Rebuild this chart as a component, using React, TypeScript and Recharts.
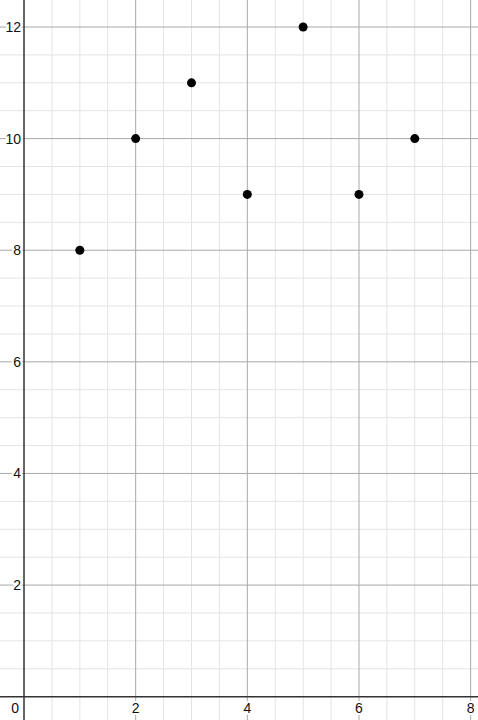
import React from 'react';
import { ScatterChart, Scatter, XAxis, YAxis, ReferenceLine } from 'recharts';

const pointX = [1, 2, 3, 4, 5, 6, 7];
const pointY = [8, 10, 11, 9, 12, 9, 10];

const xMajor = [2, 4, 6, 8];
const yMajor = [2, 4, 6, 8, 10, 12];
const xMinor = [0.5, 1, 1.5, 2.5, 3, 3.5, 4.5, 5, 5.5, 6.5, 7, 7.5];
const yMinor = [0.5, 1, 1.5, 2.5, 3, 3.5, 4.5, 5, 5.5, 6.5, 7, 7.5, 8.5, 9, 9.5, 10.5, 11, 11.5];
const xLabels = ['2', '4', '6', '8'];
const yLabels = ['2', '4', '6', '8', '10', '12'];

const points = pointX.map((x, i) => ({ x, y: pointY[i] }));
const xLabelData = xMajor.map((x, i) => ({ x, y: 0, text: xLabels[i] }));
const yLabelData = yMajor.map((y, i) => ({ x: 0, y, text: yLabels[i] }));
const originLabel = [{ x: 0, y: 0, text: '0' }];

const font = '"Liberation Sans", Arial, sans-serif';
const minorColor = '#e4e4e4';
const majorColor = '#a8a8a8';
const axisColor = '#333';

function LabelText({ x, y, text, anchor }: { x: number; y: number; text: string; anchor: 'start' | 'middle' | 'end' }) {
  return (
    <text
      x={x}
      y={y}
      textAnchor={anchor}
      fontFamily={font}
      fontSize={14}
      fill="#111"
      stroke="#fff"
      strokeWidth={4}
      strokeLinejoin="round"
      paintOrder="stroke"
    >
      {text}
    </text>
  );
}

export default function App() {
  return (
    <div style={{ position: 'absolute', left: 0, top: 0, background: '#fff' }}>
      <ScatterChart width={478} height={720} margin={{ top: 0, right: 0, bottom: 0, left: 0 }}>
        <XAxis type="number" dataKey="x" domain={[-0.43, 8.132]} allowDataOverflow hide />
        <YAxis type="number" dataKey="y" domain={[-0.418, 12.484]} allowDataOverflow hide />

        {xMinor.map((v) => (
          <ReferenceLine key={'xm' + v} x={v} stroke={minorColor} strokeWidth={1} />
        ))}
        {yMinor.map((v) => (
          <ReferenceLine key={'ym' + v} y={v} stroke={minorColor} strokeWidth={1} />
        ))}
        {xMajor.map((v) => (
          <ReferenceLine key={'xM' + v} x={v} stroke={majorColor} strokeWidth={1} />
        ))}
        {yMajor.map((v) => (
          <ReferenceLine key={'yM' + v} y={v} stroke={majorColor} strokeWidth={1} />
        ))}
        <ReferenceLine x={0} stroke={axisColor} strokeWidth={1.5} />
        <ReferenceLine y={0} stroke={axisColor} strokeWidth={1.5} />

        <Scatter
          data={xLabelData}
          isAnimationActive={false}
          shape={(p: any) => <LabelText x={p.cx} y={p.cy + 16} text={p.payload.text} anchor="middle" />}
        />
        <Scatter
          data={yLabelData}
          isAnimationActive={false}
          shape={(p: any) => <LabelText x={p.cx - 3} y={p.cy + 5} text={p.payload.text} anchor="end" />}
        />
        <Scatter
          data={originLabel}
          isAnimationActive={false}
          shape={(p: any) => <LabelText x={p.cx - 5} y={p.cy + 16} text={p.payload.text} anchor="end" />}
        />
        <Scatter
          data={points}
          isAnimationActive={false}
          shape={(p: any) => <circle cx={p.cx} cy={p.cy} r={4.5} fill="#000" />}
        />
      </ScatterChart>
    </div>
  );
}
